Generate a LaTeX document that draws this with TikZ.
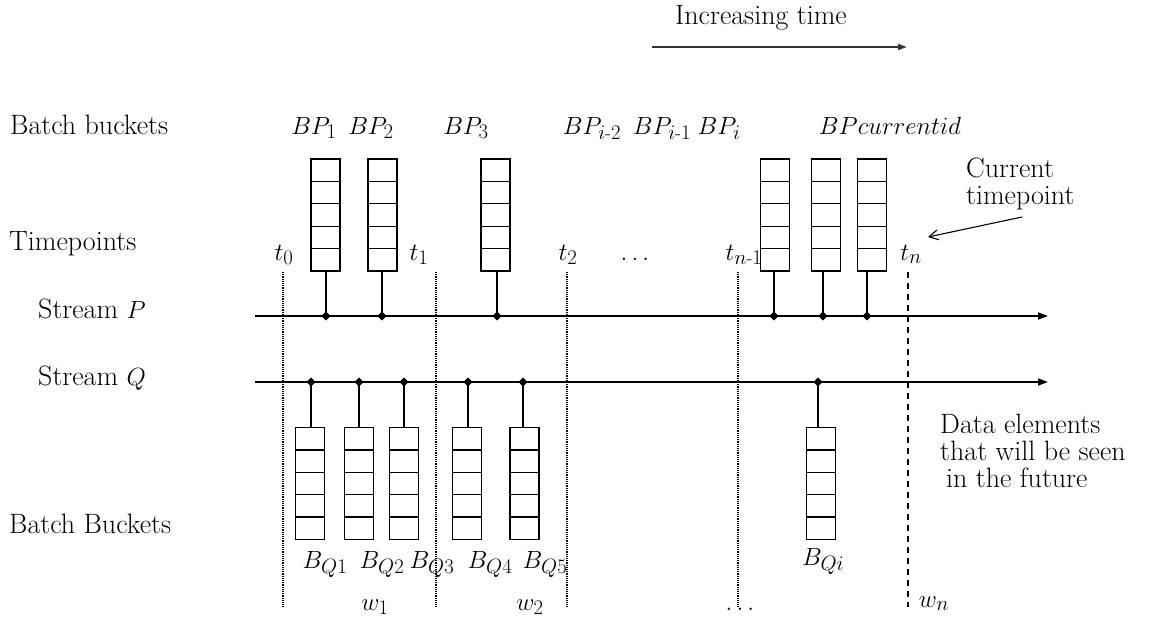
\documentclass[tikz,border=0pt]{standalone}
\usepackage{amsmath}
\usetikzlibrary{calc,shapes.geometric,arrows.meta}
\begin{document}
\begin{tikzpicture}[x=1pt,y=-1pt,
  every node/.style={font=\fontsize{28}{27}\selectfont, inner sep=0pt},
  bucket/.style={draw, line width=1.3pt, minimum width=29pt, minimum height=112pt,
    path picture={\foreach \k in {1,...,4}{\draw[line width=1.3pt]
      ($(path picture bounding box.north west)!\k/5!(path picture bounding box.south west)$) --
      ($(path picture bounding box.north east)!\k/5!(path picture bounding box.south east)$);}}},
  joint/.style={diamond, fill=black, minimum size=9pt, inner sep=0pt},
  stream/.style={line width=1.8pt, -{Triangle[length=10pt,width=7pt]}},
  stem/.style={line width=1.6pt},
  sep/.style={line width=1.2pt, densely dotted},
  lab/.style={anchor=base},
]
\useasboundingbox (0,0) rectangle (1162,618);

% increasing time
\node[lab] (inc) at (761,25) {Increasing time};
\coordinate (incA) at (652,47);
\coordinate (incB) at (907,47);
\draw[line width=1.8pt, black!80, -{Triangle[length=9pt,width=6pt]}] (incA) -- (incB);

% left labels
\node[anchor=base west] (lbb) at (10,134) {Batch buckets};
\node[anchor=base west] (ltp) at (9,250) {Timepoints};
\node[anchor=base west] (lsp) at (38,318) {Stream $P$};
\node[anchor=base west] (lsq) at (38,385) {Stream $Q$};
\node[anchor=base west] (lbq) at (9,533) {Batch Buckets};

% BP labels
\node[lab] (lbp1) at (314,134) {$BP_1$};
\node[lab] (lbp2) at (371,134) {$BP_2$};
\node[lab] (lbp3) at (466,134) {$BP_3$};
\node[lab] (lbpa) at (592,134) {$BP_{i\text{-}2}$};
\node[lab] (lbpb) at (662,134) {$BP_{i\text{-}1}$};
\node[lab] (lbpc) at (719,134) {$BP_i$};
\node[lab] (lbpd) at (890,134) {$BPcurrentid$};

% timepoint labels
\node[lab] (t0) at (284,260) {$t_0$};
\node[lab] (t1) at (419,260) {$t_1$};
\node[lab] (t2) at (568,260) {$t_2$};
\node[lab] (tdots) at (637,260) {$\dots$};
\node[lab] (tn1) at (744,260) {$t_{n\text{-}1}$};
\node[lab] (tn) at (911,260) {$t_n$};

% separators
\foreach \n/\x in {0/283,1/436,2/567,3/738}{
  \coordinate (s\n a) at (\x,272);
  \coordinate (s\n b) at (\x,607);
  \draw[sep] (s\n a) -- (s\n b);
}
\coordinate (sna) at (908,272);
\coordinate (snb) at (908,607);
\draw[line width=1.2pt, dash pattern=on 6pt off 5pt] (sna) -- (snb);

% streams
\coordinate (pA) at (255,316);
\coordinate (pB) at (1048,316);
\coordinate (qA) at (255,382);
\coordinate (qB) at (1048,382);
\draw[stream] (pA) -- (pB);
\draw[stream] (qA) -- (qB);

% P buckets
\foreach \n/\bx/\sx in {1/325.5/326,2/382.5/382,3/495.5/497,4/775/774,5/826/823,6/872/867}{
  \node[bucket] (P\n) at (\bx,215) {};
  \node[joint] (jP\n) at (\sx,316) {};
  \draw[stem] (jP\n.center) -- (jP\n |- P\n.south);
  \node[joint] at (jP\n) {};
}

% Q buckets
\foreach \n/\bx/\sx in {1/310/311,2/359/359,3/404/404,4/467/468,5/524.5/523,i/821/818}{
  \node[bucket] (Q\n) at (\bx,483.5) {};
  \node[joint] (jQ\n) at (\sx,382) {};
  \draw[stem] (jQ\n.center) -- (jQ\n |- Q\n.north);
  \node[joint] at (jQ\n) {};
}

% BQ labels
\node[lab] (lq1) at (325,568) {$B_{Q1}$};
\node[lab] (lq2) at (382,568) {$B_{Q2}$};
\node[lab] (lq3) at (432,568) {$B_{Q3}$};
\node[lab] (lq4) at (490,568) {$B_{Q4}$};
\node[lab] (lq5) at (545,568) {$B_{Q5}$};
\node[lab] (lqi) at (823,565) {$B_{Qi}$};

% window labels
\node[lab] (w1) at (375,610) {$w_1$};
\node[lab] (w2) at (530,610) {$w_2$};
\node[lab] (wdots) at (742,610) {$\dots$};
\node[lab] (wn) at (934,607) {$w_n$};

% current timepoint
\node[anchor=west, align=left] (cur) at (966,184) {Current\\timepoint};
\coordinate (curA) at (1022,217);
\coordinate (curB) at (928,237);
\draw[line width=1.1pt, -{Straight Barb[length=9pt,width=10pt]}] (curA) -- (curB);

% future
\node[anchor=west, align=left] (fut) at (940,451) {Data elements\\that will be seen\\\hspace{6pt}in the future};
\end{tikzpicture}
\end{document}
